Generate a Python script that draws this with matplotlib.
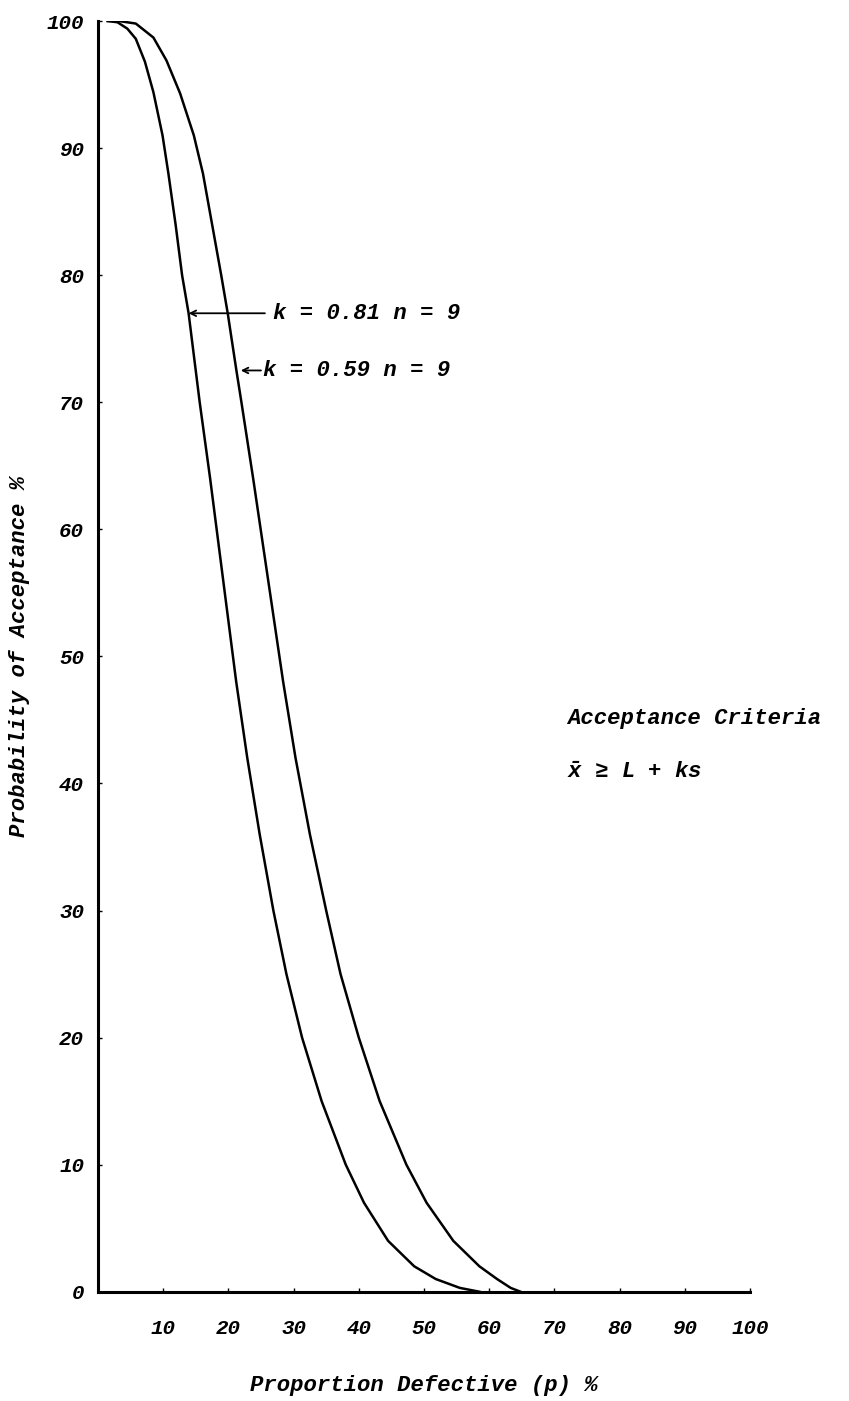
import matplotlib.pyplot as plt

# OC curves (p in %, Pa in %)
p_k081 = [1.5, 3.0, 4.5, 5.8, 7.2, 8.5, 9.9, 10.8, 11.9, 12.9, 13.9, 15.6, 17.2, 19.2,
          21.2, 22.9, 24.8, 26.9, 28.9, 31.3, 34.3, 38.0, 40.8, 44.5, 48.5, 51.8, 55.5, 58.5]
pa_k081 = [100, 99.9, 99.4, 98.6, 96.8, 94.4, 91.0, 88.0, 84.0, 80.0, 77.0, 70.0, 64.0, 56.0,
           48.0, 42.0, 36.0, 30.0, 25.0, 20.0, 15.0, 10.0, 7.0, 4.0, 2.0, 1.0, 0.3, 0]

p_k059 = [1.5, 3.2, 5.8, 8.5, 10.5, 12.6, 14.7, 16.1, 17.5, 18.9, 19.9, 21.2, 22.0, 23.8,
          26.1, 28.4, 30.3, 32.5, 35.0, 37.2, 40.0, 43.2, 47.3, 50.4, 54.5, 58.5, 61.2, 63.3, 64.8]
pa_k059 = [100, 100, 99.8, 98.7, 96.9, 94.3, 91.0, 88.0, 84.0, 80.0, 77.0, 72.6, 70.0, 64.0,
           56.0, 48.0, 42.0, 36.0, 30.0, 25.0, 20.0, 15.0, 10.0, 7.0, 4.0, 2.0, 1.0, 0.3, 0]

xticks = [10, 20, 30, 40, 50, 60, 70, 80, 90, 100]
yticks = [0, 10, 20, 30, 40, 50, 60, 70, 80, 90, 100]

fam = ['Liberation Mono', 'DejaVu Sans Mono']
plt.rcParams['font.family'] = fam
plt.rcParams['font.style'] = 'italic'
plt.rcParams['font.weight'] = 'bold'
plt.rcParams['axes.labelweight'] = 'bold'
plt.rcParams['mathtext.fontset'] = 'custom'
plt.rcParams['mathtext.it'] = 'Liberation Mono:italic:bold'
plt.rcParams['mathtext.rm'] = 'Liberation Mono:italic:bold'

fig = plt.figure(figsize=(8.49, 14.01), dpi=100)
ax = fig.add_axes([0.1154, 0.078, 0.768, 0.907])

ax.plot(p_k081, pa_k081, color='black', lw=1.8, solid_joinstyle='round')
ax.plot(p_k059, pa_k059, color='black', lw=1.8, solid_joinstyle='round')

ax.set_xlim(0, 100)
ax.set_ylim(0, 100)
ax.spines['top'].set_visible(False)
ax.spines['right'].set_visible(False)
ax.spines['left'].set_linewidth(2.2)
ax.spines['bottom'].set_linewidth(2.2)

ax.set_xticks(xticks)
ax.set_yticks(yticks)
ax.tick_params(axis='x', direction='in', length=3, width=1, labelsize=15, pad=20)
ax.tick_params(axis='y', direction='in', length=3, width=1, labelsize=15, pad=10)

ax.set_xlabel('Proportion Defective (p) %', fontsize=16, labelpad=26)
ax.set_ylabel('Probability of Acceptance %', fontsize=16, labelpad=12)

# curve labels with arrows
ax.annotate('', xy=(13.9, 77.0), xytext=(25.6, 77.0),
            arrowprops=dict(arrowstyle='->', lw=1.3, color='black', shrinkA=0, shrinkB=0))
ax.text(26.8, 77.0, 'k = 0.81 n = 9', fontsize=16, va='center', ha='left')
ax.annotate('', xy=(21.9, 72.5), xytext=(25.0, 72.5),
            arrowprops=dict(arrowstyle='->', lw=1.3, color='black', shrinkA=0, shrinkB=0))
ax.text(25.3, 72.5, 'k = 0.59 n = 9', fontsize=16, va='center', ha='left')

ax.text(72.0, 45.1, 'Acceptance Criteria', fontsize=16, va='center', ha='left')
ax.text(72.0, 40.9, '$\\bar{x}$ \u2265 L + ks', fontsize=16, va='center', ha='left')

plt.savefig('out.png', dpi=100)
